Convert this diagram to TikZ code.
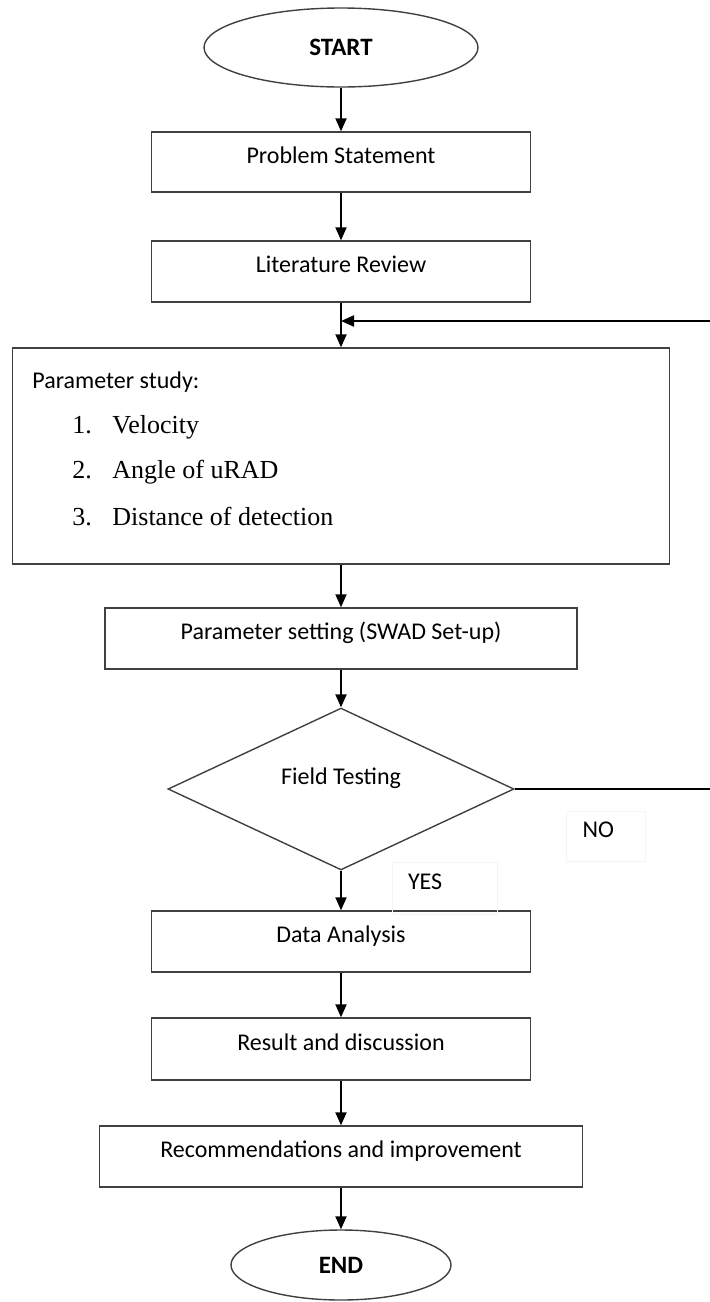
\documentclass[tikz,border=0pt]{standalone}
\usepackage{fontspec}
\setmainfont{Carlito}
\newfontfamily\listfont{Liberation Serif}
\usetikzlibrary{arrows.meta,shapes.geometric}

\tikzset{
	box/.style={draw=black!75, line width=0.7pt, rectangle, inner sep=0pt, text height=8pt, text depth=7pt},
	terminal/.style={draw=black!75, line width=0.7pt, ellipse, inner sep=0pt, font=\fontsize{12.5}{14}\selectfont\bfseries},
	decision/.style={draw=black!75, line width=0.7pt, diamond, inner sep=0pt, text height=8pt, text depth=13pt},
	tag/.style={draw=black!4, line width=0.5pt, inner xsep=8pt, inner ysep=0pt, align=left, text height=8pt, text depth=7pt},
	item/.style={inner sep=0pt, font=\listfont\fontsize{13}{15}\selectfont},
	flow/.style={-{Triangle[length=6.5pt,width=5.5pt]}, line width=1pt},
}

\begin{document}
\begin{tikzpicture}[x=0.5pt, y=-0.5pt, font=\fontsize{12}{14}\selectfont]
		\def\xmid{341} % centre line
		\def\xedge{710}  % right border
		
		\useasboundingbox (0,0) rectangle (\xedge,1302);
		
		% main column
		\node[terminal, minimum width=137pt, minimum height=39.5pt] (start) at (\xmid,47.5) {START};
		\node[box, minimum width=189.5pt, minimum height=30pt] (problem) at (\xmid,162) {Problem Statement};
		\node[box, minimum width=189.5pt, minimum height=30.5pt] (review) at (\xmid,271.5) {Literature Review};
		\node[box, minimum width=328.5pt, minimum height=108pt] (study) at (\xmid,456) {};
		\node[box, minimum width=236pt, minimum height=30.5pt] (setting) at (\xmid,638.5) {Parameter setting (SWAD Set-up)};
		\node[decision, minimum width=173pt, minimum height=74.5pt] (testing) at (\xmid,789) {Field Testing};
		\node[box, minimum width=189.5pt, minimum height=30.5pt] (analysis) at (\xmid,941.5) {Data Analysis};
		\node[box, minimum width=189.5pt, minimum height=31pt] (result) at (\xmid,1049) {Result and discussion};
		\node[box, minimum width=241.5pt, minimum height=30.5pt] (recommend) at (\xmid,1156.5) {Recommendations and improvement};
		\node[terminal, minimum width=110pt, minimum height=35pt] (end) at (\xmid,1265) {END};
		
		% contents of the study box
		\node[inner sep=0pt, anchor=west] (studyhead) at (32,382) {Parameter study:};
		\foreach \n/\t/\y in {1/Velocity/433, 2/Angle of uRAD/478, 3/Distance of detection/525} {
			\node[item, anchor=base west] (num\n) at (72,\y) {\n.};
			\node[item, anchor=base west] (item\n) at (112,\y) {\t};
		}
		
		% answers
		\node[tag, text width=23.5pt, minimum height=25pt] (no) at (606,836) {NO};
		\node[tag, text width=36.5pt, minimum height=26pt] (yes) at (444.5,888) {YES};
		
		\coordinate (noend) at (\xedge,789);
		\coordinate (backin) at (\xedge,321);
		
		\draw[flow] (start) -- (problem);
		\draw[flow] (problem) -- (review);
		\draw[flow] (review) -- (study);
		\draw[flow] (study) -- (setting);
		\draw[flow] (setting) -- (testing);
		\draw[flow] (testing) -- (analysis);
		\draw[flow] (analysis) -- (result);
		\draw[flow] (result) -- (recommend);
		\draw[flow] (recommend) -- (end);
		
		% loop back when the test fails
		\draw[line width=1pt] (testing.east) -- (noend);
		\draw[flow] (backin) -- (review.south |- backin);
		
	\end{tikzpicture}
\end{document}
